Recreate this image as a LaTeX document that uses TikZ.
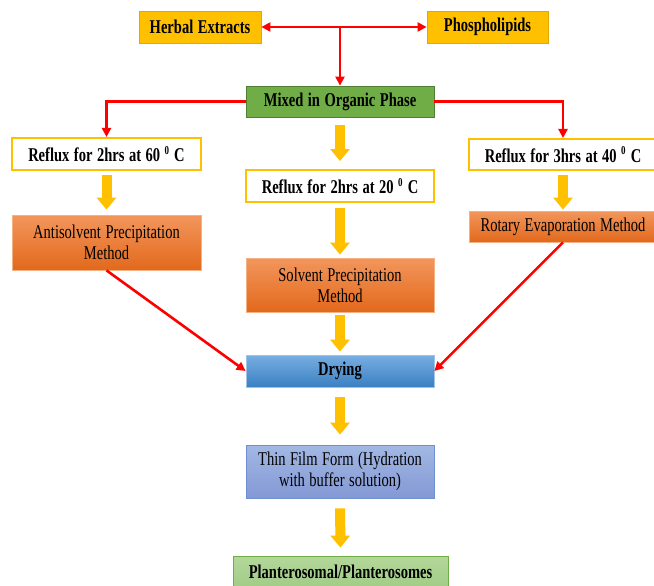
\documentclass[tikz,border=0pt]{standalone}
\usepackage{fontspec}
\setmainfont{Liberation Serif}[FakeStretch=0.745, WordSpace=1.25]
\usetikzlibrary{arrows.meta,calc}
\definecolor{gold}{HTML}{FFC000}
\definecolor{goldline}{HTML}{E0A800}
\definecolor{mixgreen}{HTML}{70AD47}
\definecolor{mixline}{HTML}{507E32}
\definecolor{orTop}{HTML}{F3965C}
\definecolor{orBot}{HTML}{E2691C}
\definecolor{orLine}{HTML}{F4B183}
\definecolor{blTop}{HTML}{78AEE2}
\definecolor{blBot}{HTML}{3A80C2}
\definecolor{blLine}{HTML}{9DC3E6}
\definecolor{lvTop}{HTML}{A2B8E4}
\definecolor{lvBot}{HTML}{8498D4}
\definecolor{lvLine}{HTML}{6F8FD0}
\definecolor{lgTop}{HTML}{B3D79B}
\definecolor{lgBot}{HTML}{A2CC86}
\definecolor{lgLine}{HTML}{70AD47}
\tikzset{
  box/.style={inner sep=0pt, align=center, font=\fontsize{19.5}{21}\selectfont},
  goldbox/.style={box, fill=gold, draw=goldline, line width=0.8pt, font=\fontsize{19.5}{21}\selectfont\bfseries},
  refluxbox/.style={box, fill=white, draw=gold, line width=2pt, font=\fontsize{19.5}{21}\selectfont\bfseries},
  mixbox/.style={box, fill=mixgreen, draw=mixline, line width=0.8pt, font=\fontsize{19.5}{21}\selectfont\bfseries},
  orbox/.style={box, top color=orTop, bottom color=orBot, draw=orLine, line width=0.8pt},
  drybox/.style={box, top color=blTop, bottom color=blBot, draw=blLine, line width=0.8pt, font=\fontsize{19.5}{21}\selectfont\bfseries},
  thinbox/.style={box, top color=lvTop, bottom color=lvBot, draw=lvLine, line width=0.8pt},
  plantbox/.style={box, top color=lgTop, bottom color=lgBot, draw=lgLine, line width=0.8pt, font=\fontsize{19.5}{21}\selectfont\bfseries},
  redarrow/.style={draw=red, line width=2.6pt, -{Triangle[width=9pt,length=9pt]}},
  reddouble/.style={draw=red, line width=2.6pt, {Triangle[width=9pt,length=9pt]}-{Triangle[width=9pt,length=9pt]}},
  blockarrow/.style={draw=gold, line width=10pt, -{Triangle[width=19pt,length=12pt]}}
}
\newcommand{\degsup}{\textsuperscript{\fontsize{12}{12}\selectfont 0}}
\begin{document}
\begin{tikzpicture}[x=1pt,y=-1pt]
\useasboundingbox (0,0) rectangle (654,586);
\fill[white] (0,0) rectangle (654,586);

\node[goldbox, minimum width=122pt, minimum height=32pt] (herbal) at (200,27) {Herbal Extracts};
\node[goldbox, minimum width=121pt, minimum height=32pt] (phospho) at (487.5,27) {Phospholipids};
\node[mixbox, minimum width=188pt, minimum height=31pt] (mixed) at (340,101.5) {Mixed in Organic Phase};

\node[refluxbox, minimum width=189pt, minimum height=32pt] (r60) at (106.5,154) {Reflux for 2hrs at 60 \degsup{} C};
\node[refluxbox, minimum width=188pt, minimum height=32pt] (r20) at (340,186) {Reflux for 2hrs at 20 \degsup{} C};
\node[refluxbox, minimum width=188pt, minimum height=31pt] (r40) at (563,154.5) {Reflux for 3hrs at 40 \degsup{} C};

\node[orbox, minimum width=189pt, minimum height=55pt] (anti) at (106.5,242.5) {Antisolvent Precipitation\\Method};
\node[orbox, minimum width=188pt, minimum height=54pt] (solv) at (340,285) {Solvent Precipitation\\Method};
\node[orbox, minimum width=188pt, minimum height=31pt] (rot) at (563,226.5) {Rotary Evaporation Method};

\node[drybox, minimum width=188pt, minimum height=32pt] (dry) at (340,371) {Drying};
\node[thinbox, minimum width=188pt, minimum height=53pt] (thin) at (340,471.5) {Thin Film Form (Hydration\\with buffer solution)};
\node[plantbox, minimum width=215pt, minimum height=32pt] (plant) at (340.5,572) {Planterosomal/Planterosomes};

% red connectors
\draw[reddouble] (herbal.east) -- (phospho.west);
\coordinate (jn) at (mixed.north |- herbal.east);
\draw[redarrow] (jn) -- (mixed.north);
\draw[redarrow] (mixed.west) -| (r60.north);
\draw[redarrow] (mixed.east) -| (r40.north);
\draw[redarrow] (anti.south) -- (dry.west);
\draw[redarrow] (rot.south) -- (dry.east);

% block arrows
\draw[blockarrow, shorten <=8pt, shorten >=8pt] (mixed.south) -- (r20.north);
\draw[blockarrow, shorten <=4pt, shorten >=5pt] (r60.south) -- (anti.north);
\draw[blockarrow, shorten <=4pt, shorten >=1pt] (r40.south) -- (rot.north);
\draw[blockarrow, shorten <=5pt, shorten >=3pt] (r20.south) -- (solv.north);
\draw[blockarrow, shorten <=3pt, shorten >=3pt] (solv.south) -- (dry.north);
\draw[blockarrow, shorten <=10pt, shorten >=10pt] (dry.south) -- (thin.north);
\draw[blockarrow, shorten <=10pt, shorten >=8pt] (thin.south) -- (plant.north);
\end{tikzpicture}
\end{document}
